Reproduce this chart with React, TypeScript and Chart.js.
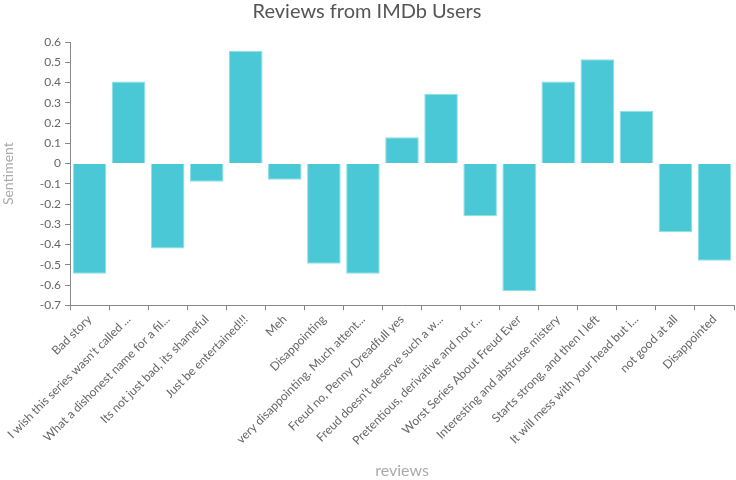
import React, { useEffect, useRef } from "react";
import { Chart, registerables } from "chart.js";

Chart.register(...registerables);

const categories: string[] = [
  "Bad story",
  "I wish this series wasn't called ...",
  "What a dishonest name for a fil...",
  "Its not just bad, its shameful",
  "Just be entertained!!!",
  "Meh",
  "Disappointing",
  "very disappointing. Much attent...",
  "Freud no, Penny Dreadfull yes",
  "Freud doesn't deserve such a w...",
  "Pretentious, derivative and not r...",
  "Worst Series About Freud Ever",
  "Interesting and abstruse mistery",
  "Starts strong, and then I left",
  "It will mess with your head but i...",
  "not good at all",
  "Disappointed",
];

const sentiment: number[] = [
  -0.545, 0.405, -0.42, -0.09, 0.555, -0.08, -0.495, -0.545, 0.13, 0.345,
  -0.26, -0.63, 0.405, 0.515, 0.26, -0.34, -0.48,
];

const FONT = "Lato, 'Open Sans', sans-serif";

export default function App() {
  const ref = useRef<HTMLCanvasElement | null>(null);
  useEffect(() => {
    document.body.style.margin = "0";
    if (!ref.current) return;
    const chart = new Chart(ref.current, {
      type: "bar",
      data: {
        labels: categories,
        datasets: [
          {
            label: "Sentiment",
            data: sentiment,
            backgroundColor: "#4AC8D6",
            borderColor: "#8FDFE7",
            borderWidth: 1,
            barPercentage: 0.86,
            categoryPercentage: 1,
          },
        ],
      },
      options: {
        animation: false,
        responsive: false,
        maintainAspectRatio: false,
        layout: { padding: { left: 0, right: 2, top: 0, bottom: 0 } },
        plugins: {
          legend: { display: false },
          tooltip: { enabled: false },
          title: {
            display: true,
            text: "Reviews from IMDb Users",
            color: "#555",
            font: { family: FONT, size: 20, weight: "normal" },
            padding: { top: 0, bottom: 18 },
          },
        },
        scales: {
          x: {
            grid: {
              display: true,
              drawOnChartArea: false,
              drawTicks: true,
              tickLength: 5,
              color: "#888",
            },
            border: { display: true, color: "#888", width: 1 },
            ticks: {
              color: "#666",
              font: { family: FONT, size: 12 },
              maxRotation: 45,
              minRotation: 45,
              autoSkip: false,
              padding: 2,
            },
            title: {
              display: true,
              text: "reviews",
              color: "#aaa",
              font: { family: FONT, size: 16 },
              padding: { top: 11, bottom: 0 },
            },
          },
          y: {
            min: -0.7,
            max: 0.6,
            grid: {
              display: true,
              drawOnChartArea: false,
              drawTicks: true,
              tickLength: 5,
              color: "#888",
            },
            border: { display: true, color: "#888", width: 1 },
            ticks: {
              stepSize: 0.1,
              color: "#666",
              font: { family: FONT, size: 12 },
              padding: 4,
              callback: (v: any) => String(Number(Number(v).toFixed(1))),
            },
            title: {
              display: true,
              text: "Sentiment",
              color: "#aaa",
              font: { family: FONT, size: 14 },
              padding: { top: 0, bottom: 19 },
            },
          },
        },
      },
    });
    return () => chart.destroy();
  }, []);
  return <canvas ref={ref} width={736} height={480} style={{ display: "block" }} />;
}
